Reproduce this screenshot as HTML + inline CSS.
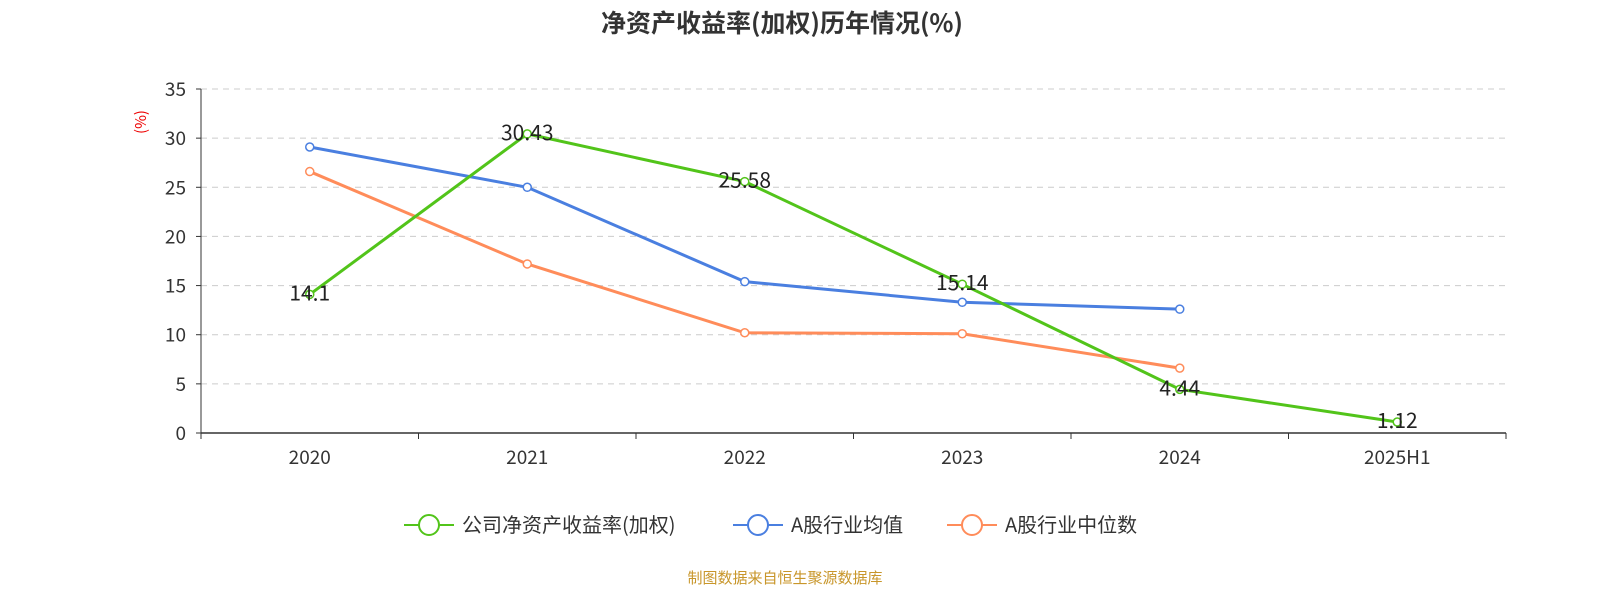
<!DOCTYPE html>
<html><head><meta charset="utf-8">
<style>
body{margin:0;background:#fff;}
svg{display:block;font-family:"Noto Sans CJK SC","Liberation Sans",sans-serif;}
</style></head>
<body>
<svg id="chart" width="1600" height="600" viewBox="0 0 1600 600">
<text x="782" y="32" text-anchor="middle" font-size="25" font-weight="bold" fill="#333">净资产收益率(加权)历年情况(%)</text>
<text transform="translate(146,122) rotate(-90)" text-anchor="middle" font-size="15" fill="#e00">(%)</text>
<g id="grid"></g>
<g id="axes"></g>
<g id="series"></g>
<g id="legend"></g>
<text x="785" y="583" text-anchor="middle" font-size="15" fill="#c8962a">制图数据来自恒生聚源数据库</text>
</svg>
<script>
const categories=["2020","2021","2022","2023","2024","2025H1"];
const companyValues=[14.1,30.43,25.58,15.14,4.44,1.12];
const avgValues=[29.1,25.0,15.4,13.3,12.6,null];
const medianValues=[26.6,17.2,10.2,10.1,6.6,null];
const yTicks=[0,5,10,15,20,25,30,35];
const seriesNames=["公司净资产收益率(加权)","A股行业均值","A股行业中位数"];

const NS="http://www.w3.org/2000/svg";
const L=201,R=1506,T=89,B=433,yMax=35;
const bw=(R-L)/categories.length;
const xs=i=>L+bw*(i+0.5);
const ys=v=>B-(v/yMax)*(B-T);
function mk(tag,attrs,parent){const e=document.createElementNS(NS,tag);for(const k in attrs)e.setAttribute(k,attrs[k]);parent.appendChild(e);return e;}
const grid=document.getElementById('grid'),axes=document.getElementById('axes'),ser=document.getElementById('series'),leg=document.getElementById('legend');
yTicks.forEach(t=>{
  if(t>0){const g=mk('line',{x1:L,x2:R,y1:ys(t),y2:ys(t),stroke:'#ccc','stroke-dasharray':'6,5'},grid);
  
  }
  const tx=mk('text',{x:186,y:ys(t)+7,'text-anchor':'end','font-size':19,fill:'#333'},axes);tx.textContent=t;
  
  
  const tk=mk('line',{x1:196,x2:201,y1:ys(t),y2:ys(t),stroke:'#333'},axes);
  
  
});
const ya=mk('line',{x1:L,x2:L,y1:T,y2:B,stroke:'#333'},axes);


const xa=mk('line',{x1:L,x2:R,y1:B,y2:B,stroke:'#333','stroke-width':1.5},axes);


for(let i=0;i<=categories.length;i++){const tk=mk('line',{x1:L+bw*i,x2:L+bw*i,y1:B,y2:B+6,stroke:'#333'},axes);

}
categories.forEach((c,i)=>{const tx=mk('text',{x:xs(i),y:464,'text-anchor':'middle','font-size':19,fill:'#333'},axes);tx.textContent=c;

});
const colors=['#52c41a','#4a7fe0','#ff8c5a'];
const data=[companyValues,avgValues,medianValues];
[2,1,0].forEach(s=>{
  const vals=data[s];const pts=[];
  vals.forEach((v,i)=>{if(v!==null)pts.push([xs(i),ys(v)]);});
  const p=mk('polyline',{points:pts.map(p=>p.join(',')).join(' '),fill:'none',stroke:colors[s],'stroke-width':3},ser);
  
  
  pts.forEach(pt=>{const c=mk('circle',{cx:pt[0],cy:pt[1],r:4,fill:'#fff',stroke:colors[s],'stroke-width':1.5},ser);
  
  });
});
companyValues.forEach((v,i)=>{const tx=mk('text',{x:xs(i),y:ys(v)+6,'text-anchor':'middle','font-size':21,fill:'#222'},ser);tx.textContent=v;

});
const lx=[404,733,947];
seriesNames.forEach((n,s)=>{
  const g=mk('g',{},leg);
  
  
  mk('line',{x1:lx[s],x2:lx[s]+50,y1:525,y2:525,stroke:colors[s],'stroke-width':2},g);
  mk('circle',{cx:lx[s]+25,cy:525,r:10,fill:'#fff',stroke:colors[s],'stroke-width':2},g);
  const t=mk('text',{x:lx[s]+58,y:532,'font-size':20,fill:'#333'},g);t.textContent=n;
});
</script>
</body></html>
